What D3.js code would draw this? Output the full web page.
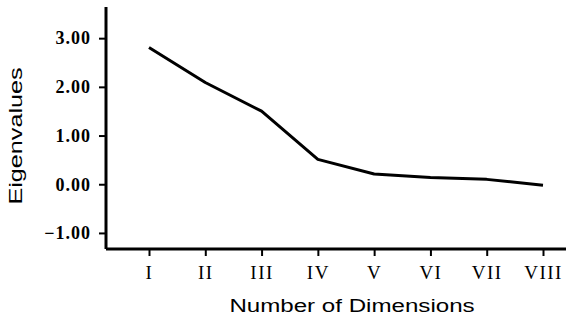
<!DOCTYPE html>
<html>
<head>
<meta charset="utf-8">
<script src="https://cdn.jsdelivr.net/npm/d3@7"></script>
<style>
  body { margin: 0; background: #fff; }
  svg { display: block; }
</style>
</head>
<body>
<svg id="chart" width="566" height="321"></svg>
<script>
// data
const dimensions = ['I', 'II', 'III', 'IV', 'V', 'VI', 'VII', 'VIII'];
const eigenvalues = [2.81, 2.09, 1.50, 0.51, 0.21, 0.14, 0.10, -0.02];
const yTicks = [-1, 0, 1, 2, 3];

const margin = { top: 7, right: 0, bottom: 72, left: 106 };
const width = 566, height = 321;

const svg = d3.select('#chart');
const g = svg.append('g')
  .attr('transform', `translate(${margin.left},${margin.top})`);

const innerW = width - margin.left - margin.right;
const innerH = height - margin.top - margin.bottom;

// x: point positions for the roman numeral categories
const xScale = d3.scalePoint()
  .domain(dimensions)
  .range([43, 437]);

const yScale = d3.scaleLinear()
  .domain([-1.33, 3.64])
  .range([innerH, 0]);

// y axis
const yAxis = g.append('g')
  .call(d3.axisLeft(yScale)
    .tickValues(yTicks)
    .tickFormat(d3.format('.2f'))
    .tickSize(7)
    .tickPadding(8));
yAxis.select('.domain').attr('stroke-width', 3).attr('d', `M0,0V${innerH}`);
yAxis.selectAll('.tick line').attr('stroke-width', 2);
yAxis.selectAll('.tick text')
  .attr('font-family', '"Liberation Serif", serif')
  .attr('font-weight', 'bold')
  .attr('font-size', 18)
  .attr('letter-spacing', 1)
  .attr('fill', '#000');

// x axis
const xAxis = g.append('g')
  .attr('transform', `translate(0,${innerH})`)
  .call(d3.axisBottom(xScale).tickSize(7));
xAxis.select('.domain').attr('stroke-width', 3).attr('d', `M0,0H${innerW}`);
xAxis.selectAll('.tick line').attr('stroke-width', 2);
xAxis.selectAll('.tick text')
  .attr('y', 30)
  .attr('dy', 0)
  .attr('font-family', '"Liberation Serif", serif')
  .attr('font-size', 19)
  .attr('letter-spacing', 1.5)
  .attr('fill', '#000');

// eigenvalue line
const line = d3.line()
  .x((d, i) => xScale(dimensions[i]))
  .y(d => yScale(d));

g.append('path')
  .datum(eigenvalues)
  .attr('fill', 'none')
  .attr('stroke', '#000')
  .attr('stroke-width', 3)
  .attr('stroke-linejoin', 'round')
  .attr('d', line);

// axis titles
svg.append('text')
  .attr('transform', 'translate(352,312) scale(1.27,1)')
  .attr('text-anchor', 'middle')
  .attr('font-family', '"Liberation Sans", Arial, sans-serif')
  .attr('font-size', 19)
  .text('Number of Dimensions');

svg.append('text')
  .attr('transform', 'translate(22,136) rotate(-90) scale(1.4,1)')
  .attr('text-anchor', 'middle')
  .attr('font-family', '"Liberation Sans", Arial, sans-serif')
  .attr('font-size', 18)
  .text('Eigenvalues');
</script>
</body>
</html>
